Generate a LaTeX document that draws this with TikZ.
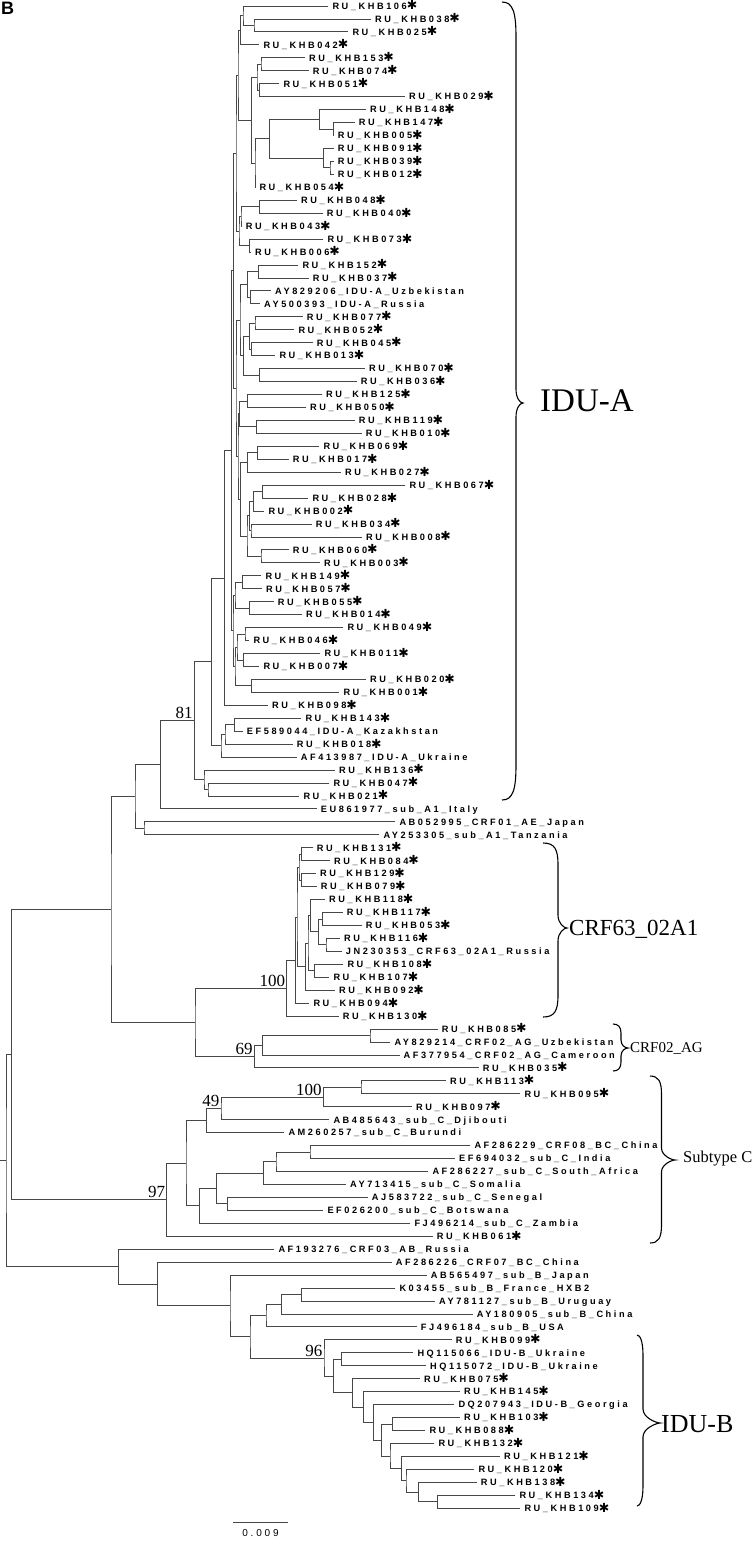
\documentclass[tikz,border=0pt]{standalone}
\usepackage{fontspec}
\setmainfont{Liberation Serif}
\newfontfamily\labfont[LetterSpace=28]{Liberation Sans}
\newfontfamily\hfont{Liberation Sans}
\newfontfamily\symfont{DejaVu Sans}
\usetikzlibrary{calc}
\tikzset{
 br/.style={draw=black!72, line width=0.9pt},
 lab/.style={anchor=west, inner sep=0pt, font=\labfont\bfseries\fontsize{9.2}{10}\selectfont, text height=6.6pt, text depth=0pt},
 bs/.style={anchor=south east, inner xsep=1.5pt, inner ysep=1.5pt, font=\fontsize{17}{17}\selectfont},
 grp/.style={anchor=west, inner sep=0pt},
 bline/.style={draw=black, line width=1.1pt},
}
\newcommand\st{\raisebox{-0.6pt}{\symfont\fontsize{12.5}{10}\selectfont\char"2731}}
\newcommand\ru[3]{\coordinate (r#2) at ({#3-4},#1);\node[lab] (r#2t) at (#3,#1) {RU\_KHB#2\st};}
\newcommand\lf[4]{\coordinate (#1) at ({#2-4},#3);\node[lab] (#1t) at (#2,#3) {#4};}
\newcommand\cl[4]{\coordinate (#1m) at ($(#3)!.5!(#4)$);\coordinate (#1) at (#2,0 |- #1m);\draw[br] (#3) -| (#1) |- (#4);}
\newcommand\vbr[8]{\draw[bline] (#1,#4) .. controls (#2-3,#4) and (#2,#4+#7*0.3) .. (#2,#4+#7) -- (#2,#5-#8) .. controls (#2,#5-#8*0.35) and (#3-3,#5) .. (#3,#5) .. controls (#3-3,#5) and (#2,#5+#8*0.35) .. (#2,#5+#8) -- (#2,#6-#7) .. controls (#2,#6-#7*0.3) and (#2-3,#6) .. (#1,#6);}
\begin{document}
\begin{tikzpicture}
\fill[white] (0,0) rectangle (755pt,-1542pt);
\path[use as bounding box] (0,0) rectangle (755pt,-1542pt);
\begin{scope}[x=1pt, y=-12.95pt, yshift=6.95pt]
% leaves
\ru{1}{106}{332.3}
\ru{2}{038}{375}
\ru{3}{025}{352.3}
\ru{4}{042}{263.3}
\ru{5}{153}{309}
\ru{6}{074}{312.7}
\ru{7}{051}{283.3}
\ru{8}{029}{409}
\ru{9}{148}{370}
\ru{10}{147}{358.7}
\ru{11}{005}{337.7}
\ru{12}{091}{337.7}
\ru{13}{039}{337.7}
\ru{14}{012}{337.7}
\ru{15}{054}{259.3}
\ru{16}{048}{301}
\ru{17}{040}{326.7}
\ru{18}{043}{245.7}
\ru{19}{073}{327.3}
\ru{20}{006}{255}
\ru{21}{152}{302.3}
\ru{22}{037}{312.7}
\lf{uz}{275}{23}{AY829206\_IDU-A\_Uzbekistan}
\lf{rus}{264}{24}{AY500393\_IDU-A\_Russia}
\ru{25}{077}{306.7}
\ru{26}{052}{298.3}
\ru{27}{045}{316.7}
\ru{28}{013}{279.3}
\ru{29}{070}{369}
\ru{30}{036}{360.7}
\ru{31}{125}{326}
\ru{32}{050}{310}
\ru{33}{119}{358.7}
\ru{34}{010}{365.7}
\ru{35}{069}{323.3}
\ru{36}{017}{292.7}
\ru{37}{027}{345}
\ru{38}{067}{409.3}
\ru{39}{028}{312.3}
\ru{40}{002}{268.3}
\ru{41}{034}{315.7}
\ru{42}{008}{366}
\ru{43}{060}{292.7}
\ru{44}{003}{324}
\ru{45}{149}{265.3}
\ru{46}{057}{266}
\ru{47}{055}{277.7}
\ru{48}{014}{306}
\ru{49}{049}{347.3}
\ru{50}{046}{253.3}
\ru{51}{011}{324.3}
\ru{52}{007}{263.3}
\ru{53}{020}{370}
\ru{54}{001}{343.3}
\ru{55}{098}{272}
\ru{56}{143}{305.3}
\lf{kaz}{246.7}{57}{EF589044\_IDU-A\_Kazakhstan}
\ru{58}{018}{296.7}
\lf{ukr}{300.7}{59}{AF413987\_IDU-A\_Ukraine}
\ru{60}{136}{339}
\ru{61}{047}{333.3}
\ru{62}{021}{303.3}
\lf{ita}{320.7}{63}{EU861977\_sub\_A1\_Italy}
\lf{jap}{399.3}{64}{AB052995\_CRF01\_AE\_Japan}
\lf{tan}{383.3}{65}{AY253305\_sub\_A1\_Tanzania}
\ru{66}{131}{316.7}
\ru{67}{084}{334}
\ru{68}{129}{320}
\ru{69}{079}{320.7}
\ru{70}{118}{329}
\ru{71}{117}{346.7}
\ru{72}{053}{365.7}
\ru{73}{116}{344}
\lf{jn}{345.7}{74}{JN230353\_CRF63\_02A1\_Russia}
\ru{75}{108}{347.3}
\ru{76}{107}{333.3}
\ru{77}{092}{339}
\ru{78}{094}{313.3}
\ru{79}{130}{342.7}
\ru{80}{085}{441.7}
\lf{uzb}{394.3}{81}{AY829214\_CRF02\_AG\_Uzbekistan}
\lf{cam}{403.5}{82}{AF377954\_CRF02\_AG\_Cameroon}
\ru{83}{035}{482.7}
\ru{84}{113}{450}
\ru{85}{095}{524.3}
\ru{86}{097}{416}
\lf{dji}{333.3}{87}{AB485643\_sub\_C\_Djibouti}
\lf{bur}{288.3}{88}{AM260257\_sub\_C\_Burundi}
\lf{chi}{474.3}{89}{AF286229\_CRF08\_BC\_China}
\lf{ind}{459}{90}{EF694032\_sub\_C\_India}
\lf{saf}{432.3}{91}{AF286227\_sub\_C\_South\_Africa}
\lf{som}{350}{92}{AY713415\_sub\_C\_Somalia}
\lf{sen}{371.7}{93}{AJ583722\_sub\_C\_Senegal}
\lf{bot}{327.3}{94}{EF026200\_sub\_C\_Botswana}
\lf{zam}{414.3}{95}{FJ496214\_sub\_C\_Zambia}
\ru{96}{061}{436.7}
\lf{crfc}{278.3}{97}{AF193276\_CRF03\_AB\_Russia}
\lf{crfs}{395.7}{98}{AF286226\_CRF07\_BC\_China}
\lf{bjap}{430.7}{99}{AB565497\_sub\_B\_Japan}
\lf{hxb}{399.3}{100}{K03455\_sub\_B\_France\_HXB2}
\lf{uru}{439}{101}{AY781127\_sub\_B\_Uruguay}
\lf{bchi}{476.7}{102}{AY180905\_sub\_B\_China}
\lf{usa}{420.7}{103}{FJ496184\_sub\_B\_USA}
\ru{104}{099}{455.7}
\lf{hqa}{417.3}{105}{HQ115066\_IDU-B\_Ukraine}
\lf{hqb}{430}{106}{HQ115072\_IDU-B\_Ukraine}
\ru{107}{075}{424}
\ru{108}{145}{464}
\lf{geo}{458.3}{109}{DQ207943\_IDU-B\_Georgia}
\ru{110}{103}{464}
\ru{111}{088}{429.3}
\ru{112}{132}{438.3}
\ru{113}{121}{504}
\ru{114}{120}{478.3}
\ru{115}{138}{480.7}
\ru{116}{134}{519.3}
\ru{117}{109}{524.3}
% IDU-A clade
\cl{aA0}{254}{r038}{r025}
\cl{aA}{243}{r106}{aA0}
\cl{aB}{240.7}{aA}{r042}
\cl{aC1}{261}{r153}{r074}
\cl{aC2}{259.3}{r051}{r029}
\cl{aC}{257}{aC1}{aC2}
\cl{aD1}{333.3}{r147}{r005}
\cl{aD2}{319.3}{r148}{aD1}
\cl{aD3}{330}{r039}{r012}
\cl{aD4}{323.3}{r091}{aD3}
\cl{aD}{269.3}{aD2}{aD4}
\cl{aE}{255}{aD}{r054}
\cl{aF}{251.7}{aC}{aE}
\cl{aT1}{238}{aB}{aF}
\cl{aG}{259.3}{r048}{r040}
\cl{aGG}{241}{aG}{r043}
\cl{aH}{249.3}{r073}{r006}
\cl{aT2}{239}{aGG}{aH}
\cl{aT12}{236}{aT1}{aT2}
\cl{ah1}{258.3}{r152}{r037}
\cl{ah2}{250.7}{uz}{rus}
\cl{ah}{247.7}{ah1}{ah2}
\cl{ai1}{255}{r077}{r052}
\cl{ai2}{251.7}{r045}{r013}
\cl{ai}{249.3}{ai1}{ai2}
\cl{aj}{259.3}{r070}{r036}
\cl{aij}{243.3}{ai}{aj}
\cl{aT3}{240}{ah}{aij}
\cl{ak}{247.7}{r125}{r050}
\cl{al}{256.7}{r119}{r010}
\cl{akl}{239.3}{ak}{al}
\cl{am1}{257.3}{r069}{r017}
\cl{am}{247.7}{am1}{r027}
\cl{an1}{262.7}{r067}{r028}
\cl{an}{253.3}{an1}{r002}
\cl{ao}{251}{r034}{r008}
\cl{ap}{261}{r060}{r003}
\cl{ano}{249.3}{an}{ao}
\cl{anop}{247}{ano}{ap}
\cl{amnop}{240.7}{am}{anop}
\cl{aT4}{238}{akl}{amnop}
\cl{aT34}{236}{aT3}{aT4}
\cl{aTop}{233.5}{aT12}{aT34}
\cl{aq}{242.7}{r149}{r057}
\cl{ar}{249.3}{r055}{r014}
\cl{aqr}{235}{aq}{ar}
\cl{as}{245}{r049}{r046}
\cl{at}{243.3}{r011}{r007}
\cl{ast}{237}{as}{at}
\cl{au}{251.7}{r020}{r001}
\cl{astu}{235}{ast}{au}
\cl{aT5}{233}{aqr}{astu}
\cl{aS}{231.7}{aTop}{aT5}
\cl{aN7}{224.3}{aS}{r098}
\cl{aw1}{234.3}{r143}{kaz}
\cl{aw2}{225}{aw1}{r018}
\cl{aw}{221}{aw2}{ukr}
\cl{aN6}{211.7}{aN7}{aw}
\cl{ax1}{208}{r047}{r021}
\cl{ax}{204}{r136}{ax1}
\cl{aN5}{194.3}{aN6}{ax}
\cl{aN4}{160.3}{aN5}{ita}
\cl{aAA}{144}{jap}{tan}
\cl{aN3}{135}{aN4}{aAA}
% CRF63_02A1
\cl{gP1}{301.7}{r131}{r084}
\cl{gP2}{301.7}{r129}{r079}
\cl{gP12}{299}{gP1}{gP2}
\cl{gQ1}{322.7}{r117}{r053}
\cl{gQ2}{326}{r116}{jn}
\cl{gQ12}{318.3}{gQ1}{gQ2}
\cl{gQ3}{310.7}{r118}{gQ12}
\cl{gQ4}{314.3}{r108}{r107}
\cl{gQ5}{308}{gQ3}{gQ4}
\cl{gQ6}{305.7}{gQ5}{r092}
\cl{gR1}{297}{gP12}{gQ6}
\cl{gR2}{295.7}{gR1}{r094}
\cl{gC100}{286.7}{gR2}{r130}
% CRF02_AG
\cl{fG1}{370}{r085}{uzb}
\cl{fG2}{262.7}{fG1}{cam}
\cl{fC69}{254.3}{fG2}{r035}
\cl{NCRF}{195}{gC100}{fC69}
\cl{N2}{111}{aN3}{NCRF}
% subtype C
\cl{c1}{361}{r113}{r095}
\cl{c100}{323.3}{c1}{r097}
\cl{c49}{221}{c100}{dji}
\cl{c2}{206.7}{c49}{bur}
\cl{c3}{310}{chi}{ind}
\cl{c4}{276}{c3}{saf}
\cl{c5}{263.3}{c4}{som}
\cl{c6}{227.3}{sen}{bot}
\cl{c7}{216.7}{c5}{c6}
\cl{c8}{199.3}{c7}{zam}
\cl{c9}{186}{c2}{c8}
\cl{c97}{166.7}{c9}{r061}
\cl{N1}{11.3}{N2}{c97}
% subtype B
\cl{b1}{301.7}{hxb}{uru}
\cl{b2}{281.7}{b1}{bchi}
\cl{b3}{266}{b2}{usa}
\cl{z5}{437.3}{r134}{r109}
\cl{z4}{418.3}{r138}{z5}
\cl{z3}{406}{r120}{z4}
\cl{z2}{401.7}{r121}{z3}
\cl{z1}{390}{r132}{z2}
\cl{y1}{392.7}{r103}{r088}
\cl{wB}{381.7}{y1}{z1}
\cl{x4}{373.3}{geo}{wB}
\cl{x3}{363.3}{r145}{x4}
\cl{x2}{352.7}{r075}{x3}
\cl{hq}{341.7}{hqa}{hqb}
\cl{x1b}{333.3}{hq}{x2}
\cl{b96}{324}{r099}{x1b}
\cl{b4}{250}{b3}{b96}
\cl{b5}{230}{bjap}{b4}
\cl{b6}{157.7}{crfs}{b5}
\cl{NB}{118.3}{crfc}{b6}
\cl{root}{6}{N1}{NB}
\coordinate (stub) at (0,0 |- root);
\draw[br] (root) -- (stub);
% bootstrap values
\node[bs] (bs81) at (aN5) {81};
\node[bs] (bs100a) at (gC100) {100};
\node[bs] (bs69) at (fC69) {69};
\node[bs] (bs100b) at (c100) {100};
\node[bs] (bs49) at (c49) {49};
\node[bs] (bs97) at (c97) {97};
\node[bs] (bs96) at (b96) {96};
\end{scope}
\begin{scope}[x=1pt, y=-1pt]
\node[anchor=north west, inner sep=0pt, font=\hfont\bfseries\fontsize{18}{18}\selectfont] (panelB) at (1,2) {B};
% braces
\vbr{502}{516}{523}{2}{403}{800}{35}{14}
\vbr{543}{558}{567}{843}{928}{1017}{22}{13}
\vbr{613}{621}{628}{1024}{1048}{1071}{9}{8}
\vbr{650}{661.5}{675}{1076}{1160}{1243}{18}{12}
\vbr{637}{643}{660}{1335}{1423}{1506}{20}{14}
\node[grp, font=\fontsize{33}{33}\selectfont] (lblA) at (540,401) {IDU-A};
\node[grp, font=\fontsize{23}{23}\selectfont] (lblC63) at (569,929) {CRF63\_02A1};
\node[grp, font=\fontsize{15}{15}\selectfont] (lblC02) at (630,1048) {CRF02\_AG};
\node[grp, font=\fontsize{16.5}{16.5}\selectfont] (lblC) at (683,1159) {Subtype C};
\node[grp, font=\fontsize{26}{26}\selectfont] (lblB) at (661,1424) {IDU-B};
% scale bar
\coordinate (sb1) at (233,1522);
\coordinate (sb2) at (288,1522);
\draw[br] (sb1) -- (sb2);
\node[anchor=north, inner sep=0pt, font=\labfont\fontsize{10}{10}\selectfont] (sbt) at ($(sb1)!.5!(sb2)+(0,7)$) {0.009};
\end{scope}
\end{tikzpicture}
\end{document}
